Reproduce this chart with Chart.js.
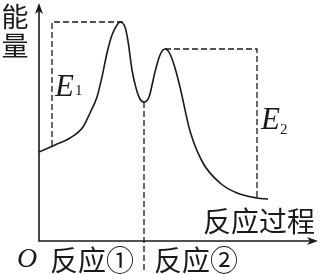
<!DOCTYPE html>
<html>
<head>
<meta charset="utf-8">
<script src="https://cdn.jsdelivr.net/npm/chart.js@4/dist/chart.umd.min.js"></script>
<style>
  html, body { margin: 0; padding: 0; background: #fff; }
  canvas { display: block; }
</style>
</head>
<body>
<canvas id="energyChart" width="321" height="274"></canvas>
<script>
// 反应过程 (x) 与 能量 (y)，从原图读出的数值
const pathX = [0, 16, 31, 44, 51, 58, 63, 68, 73, 78, 81, 86, 89, 93, 97, 101, 105, 110, 116, 121, 126, 131, 136, 141, 151, 164, 181, 198, 218, 229];
const pathE = [89, 96, 103, 114, 128, 144, 164, 188, 206, 216, 219, 214, 200, 171, 153, 142, 139, 144, 169, 186, 192, 187, 173, 154, 110, 78, 58, 48, 43, 42];

// 虚线辅助线
const e1GuideX = [13, 13, 84];
const e1GuideE = [95, 219, 219];
const midGuideX = [105, 105];
const midGuideE = [139, -31];
const e2GuideX = [126, 218, 218];
const e2GuideE = [192, 192, 44];

const axisTitles = ['能量', '反应过程'];
const stageLabels = ['反应①', '反应②'];
const energyLabels = ['1', '2'];

const ink = '#1a1a1a';

function toPoints(xs, ys) {
    return xs.map((x, i) => ({ x: x, y: ys[i] }));
}

function guide(xs, ys) {
    return {
        data: toPoints(xs, ys),
        showLine: true,
        borderColor: ink,
        borderWidth: 1.3,
        borderDash: [6, 3],
        pointRadius: 0,
        clip: false
    };
}

// 坐标轴和箭头
const axesPlugin = {
    id: 'axes',
    beforeDatasetsDraw(chart) {
        const ctx = chart.ctx;
        const x = chart.scales.x, y = chart.scales.y;
        const x0 = x.getPixelForValue(0), y0 = y.getPixelForValue(0);
        const xEnd = x.getPixelForValue(x.max), yEnd = y.getPixelForValue(y.max);
        ctx.save();
        ctx.strokeStyle = ink;
        ctx.fillStyle = ink;
        ctx.lineWidth = 1.6;
        ctx.beginPath();
        ctx.moveTo(x0, yEnd + 4);
        ctx.lineTo(x0, y0);
        ctx.lineTo(xEnd - 4, y0);
        ctx.stroke();
        // y arrow
        ctx.beginPath();
        ctx.moveTo(x0, yEnd);
        ctx.lineTo(x0 - 4, yEnd + 11);
        ctx.lineTo(x0, yEnd + 8);
        ctx.lineTo(x0 + 4, yEnd + 11);
        ctx.closePath();
        ctx.fill();
        // x arrow
        ctx.beginPath();
        ctx.moveTo(xEnd, y0);
        ctx.lineTo(xEnd - 11, y0 - 4);
        ctx.lineTo(xEnd - 8, y0);
        ctx.lineTo(xEnd - 11, y0 + 4);
        ctx.closePath();
        ctx.fill();
        ctx.restore();
    }
};

// 文字标注
const labelPlugin = {
    id: 'labels',
    afterDraw(chart) {
        const ctx = chart.ctx;
        const a = chart.chartArea;
        const x = chart.scales.x;
        ctx.save();
        ctx.fillStyle = ink;
        ctx.textBaseline = 'middle';
        ctx.textAlign = 'center';
        ctx.font = '27px "Noto Sans CJK SC"';
        ctx.fillText(axisTitles[0][0], 15, 17);
        ctx.fillText(axisTitles[0][1], 15, 46);

        ctx.textAlign = 'left';
        ctx.font = '28px "Noto Sans CJK SC"';
        ctx.fillText(axisTitles[1], 203, 221);
        ctx.fillText(stageLabels[0], 50, 260);
        ctx.fillText(stageLabels[1], 154, 260);

        ctx.textBaseline = 'alphabetic';
        ctx.font = 'italic 28px "Liberation Serif"';
        ctx.fillText('O', 17, a.bottom + 26);

        ctx.font = 'italic 31px "Liberation Serif"';
        ctx.fillText('E', x.getPixelForValue(e1GuideX[0]) + 3, 96);
        ctx.fillText('E', x.getPixelForValue(e2GuideX[1]) + 4, 129);
        ctx.font = '15px "Liberation Serif"';
        ctx.fillText(energyLabels[0], x.getPixelForValue(e1GuideX[0]) + 23, 95);
        ctx.fillText(energyLabels[1], x.getPixelForValue(e2GuideX[1]) + 23, 134);
        ctx.restore();
    }
};

new Chart(document.getElementById('energyChart').getContext('2d'), {
    type: 'scatter',
    data: {
        datasets: [
            {
                data: toPoints(pathX, pathE),
                showLine: true,
                borderColor: ink,
                borderWidth: 1.6,
                pointRadius: 0,
                cubicInterpolationMode: 'monotone'
            },
            guide(e1GuideX, e1GuideE),
            guide(midGuideX, midGuideE),
            guide(e2GuideX, e2GuideE)
        ]
    },
    options: {
        responsive: false,
        animation: false,
        layout: { padding: { left: 39, top: 3, right: 3, bottom: 33 } },
        plugins: { legend: { display: false }, tooltip: { enabled: false } },
        scales: {
            x: { type: 'linear', min: 0, max: 279, display: false },
            y: { type: 'linear', min: 0, max: 238, display: false }
        }
    },
    plugins: [axesPlugin, labelPlugin]
});
</script>
</body>
</html>
